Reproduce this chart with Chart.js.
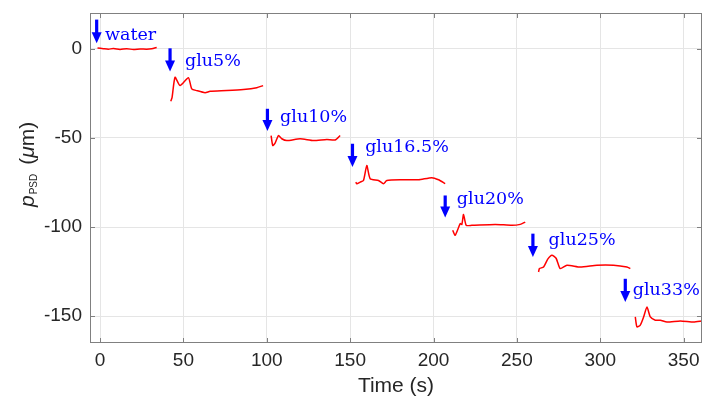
<!doctype html>
<html lang="en">
<head>
<meta charset="utf-8">
<title>pPSD steps with glucose</title>
<style>
    * {
        margin: 0;
        padding: 0;
    }

    body {
        background: #fff;
    }

    #chart {
        display: block;
    }
</style>
</head>
<body>
<canvas id="chart" width="703" height="406"></canvas>
<script src="https://cdn.jsdelivr.net/npm/chart.js"></script>
<script>
// axis ticks
const xTicks = [0, 50, 100, 150, 200, 250, 300, 350];
const yTicks = [-150, -100, -50, 0];

// one red trace per solution: time (s) and p_PSD (um)
const waterT = [-1.5, 2, 5, 8, 12, 16, 20, 24, 28, 31, 34];
const waterP = [0.4, 0, -0.3, 0.1, -0.4, 0, -0.5, -0.2, -0.3, 0, 0.7];

const glu5T = [42.4, 43.2, 45, 48, 53, 55, 58, 63, 66, 76, 86, 94, 97.8];
const glu5P = [-29.5, -27.5, -16, -20.7, -16.3, -22.5, -23.5, -24.7, -23.9, -23.5, -22.9, -21.9, -20.7];

const glu10T = [102.6, 103.6, 105, 107, 109, 112, 120, 128, 136, 141, 144];
const glu10P = [-48.7, -54.3, -53, -48.7, -50.5, -51.5, -50.5, -51.5, -50.9, -51.2, -48.7];

const glu16T = [153.4, 154, 156, 158, 160, 162, 167, 170, 172, 181, 191, 199, 203, 207];
const glu16P = [-74.8, -75.7, -74.8, -73.9, -65.5, -72.9, -73.9, -75.7, -73.9, -73.5, -73.5, -72.3, -73.5, -75.7];

const glu20T = [211.5, 213, 216, 217, 218, 219.6, 223, 237, 247, 252, 255];
const glu20P = [-101.8, -104.6, -98.1, -98.5, -92.9, -99, -99, -98.5, -99, -98.5, -97.2];

const glu25T = [263, 263.5, 266, 268.5, 271, 273.5, 276, 280, 288, 298, 308, 316, 318];
const glu25P = [-125.2, -123.3, -122.4, -118, -115.8, -117.5, -123.3, -121.4, -122.4, -121.4, -121.4, -122.4, -123.3];

const glu33T = [321, 322, 324, 326, 328, 330, 333, 336, 340, 348, 356, 361];
const glu33P = [-150.4, -156, -155, -150.4, -144.8, -150.4, -152.2, -152.2, -153.2, -152.6, -153.2, -152.6];

// injection markers: arrow (time, top, tip) and label anchor (time, baseline)
const stepLabels = ['water', 'glu5%', 'glu10%', 'glu16.5%', 'glu20%', 'glu25%', 'glu33%'];
const arrowT = [-2, 42, 100.4, 151.4, 207, 259.6, 315];
const arrowTop = [16.3, 0.2, -33.7, -53.3, -82.3, -103.7, -129];
const arrowTip = [3, -12.8, -46.2, -66.4, -94.7, -116.8, -142];
const labelT = [3, 51, 108, 159, 214, 269, 319.5];
const labelP = [5.1, -9.9, -41.2, -58, -86.9, -110.2, -138.2];

const axisColor = '#808080';
const textColor = '#262626';
const sans = "'Liberation Sans', Arial, sans-serif";

function trace(ts, ps) {
    return {
        data: ts.map((t, i) => ({ x: t, y: ps[i] })),
        borderColor: '#ff0000',
        borderWidth: 1.5,
        pointRadius: 0,
        tension: 0.2,
        fill: false
    };
}

const extras = {
    id: 'extras',
    afterDatasetsDraw(chart) {
        const { ctx, chartArea: a, scales: { x, y } } = chart;
        ctx.save();

        // box with inward ticks
        ctx.strokeStyle = axisColor;
        ctx.lineWidth = 1;
        ctx.beginPath();
        xTicks.forEach(v => {
            const px = Math.round(x.getPixelForValue(v)) + 0.5;
            ctx.moveTo(px, a.bottom); ctx.lineTo(px, a.bottom - 5);
            ctx.moveTo(px, a.top); ctx.lineTo(px, a.top + 5);
        });
        yTicks.forEach(v => {
            const py = Math.round(y.getPixelForValue(v)) + 0.5;
            ctx.moveTo(a.left, py); ctx.lineTo(a.left + 5, py);
            ctx.moveTo(a.right, py); ctx.lineTo(a.right - 5, py);
        });
        ctx.stroke();
        ctx.strokeRect(a.left + 0.5, a.top + 0.5, a.right - a.left - 1, a.bottom - a.top - 1);

        // arrows + labels
        ctx.fillStyle = '#0000ff';
        stepLabels.forEach((lab, i) => {
            const px = x.getPixelForValue(arrowT[i]);
            const top = y.getPixelForValue(arrowTop[i]);
            const tip = y.getPixelForValue(arrowTip[i]);
            const head = 11;
            ctx.fillRect(px - 1.6, top, 3.2, tip - top - head + 1);
            ctx.beginPath();
            ctx.moveTo(px - 5, tip - head);
            ctx.lineTo(px + 5, tip - head);
            ctx.lineTo(px, tip);
            ctx.closePath();
            ctx.fill();

            ctx.font = "17.5px 'DejaVu Serif', serif";
            ctx.textAlign = 'left';
            ctx.textBaseline = 'alphabetic';
            ctx.fillText(lab, x.getPixelForValue(labelT[i]), y.getPixelForValue(labelP[i]));
        });

        // axis titles
        ctx.fillStyle = textColor;
        ctx.font = '21px ' + sans;
        ctx.textAlign = 'center';
        ctx.textBaseline = 'middle';
        ctx.fillText('Time (s)', (a.left + a.right) / 2, 386);

        ctx.translate(34, 0);
        ctx.rotate(-Math.PI / 2);
        ctx.textAlign = 'left';
        ctx.textBaseline = 'alphabetic';
        let u = -207;
        ctx.font = 'italic 21px ' + sans;
        ctx.fillText('p', u, 0);
        u += ctx.measureText('p').width + 1;
        ctx.font = '10px ' + sans;
        ctx.fillText('PSD', u, 3);
        u += ctx.measureText('PSD').width + 9;
        ctx.font = '21px ' + sans;
        ctx.fillText('(', u, 0);
        u += ctx.measureText('(').width;
        ctx.font = 'italic 21px ' + sans;
        ctx.fillText('\u03bc', u, 0);
        u += ctx.measureText('\u03bc').width;
        ctx.font = '21px ' + sans;
        ctx.fillText('m)', u, 0);
        ctx.restore();
    }
};

new Chart(document.getElementById('chart'), {
    type: 'line',
    data: {
        datasets: [
            trace(waterT, waterP),
            trace(glu5T, glu5P),
            trace(glu10T, glu10P),
            trace(glu16T, glu16P),
            trace(glu20T, glu20P),
            trace(glu25T, glu25P),
            trace(glu33T, glu33P)
        ]
    },
    options: {
        responsive: false,
        animation: false,
        devicePixelRatio: 1,
        layout: { padding: { top: 13, right: 1, left: 0, bottom: 0 } },
        plugins: {
            legend: { display: false },
            tooltip: { enabled: false }
        },
        scales: {
            x: {
                type: 'linear',
                min: -6,
                max: 361,
                afterBuildTicks: s => { s.ticks = xTicks.map(v => ({ value: v })); },
                afterFit: s => { s.height = 63; s.paddingLeft = 0; s.paddingRight = 0; },
                ticks: {
                    color: textColor,
                    font: { family: sans, size: 19 },
                    padding: 6,
                    maxRotation: 0,
                    autoSkip: false
                },
                grid: { color: '#e5e5e5', drawTicks: false },
                border: { display: false }
            },
            y: {
                type: 'linear',
                min: -165,
                max: 20,
                afterBuildTicks: s => { s.ticks = yTicks.map(v => ({ value: v })); },
                afterFit: s => { s.width = 90; s.paddingTop = 0; s.paddingBottom = 0; },
                ticks: {
                    color: textColor,
                    font: { family: sans, size: 19 },
                    padding: 8,
                    autoSkip: false
                },
                grid: { color: '#e5e5e5', drawTicks: false },
                border: { display: false }
            }
        }
    },
    plugins: [extras]
});
</script>
</body>
</html>
